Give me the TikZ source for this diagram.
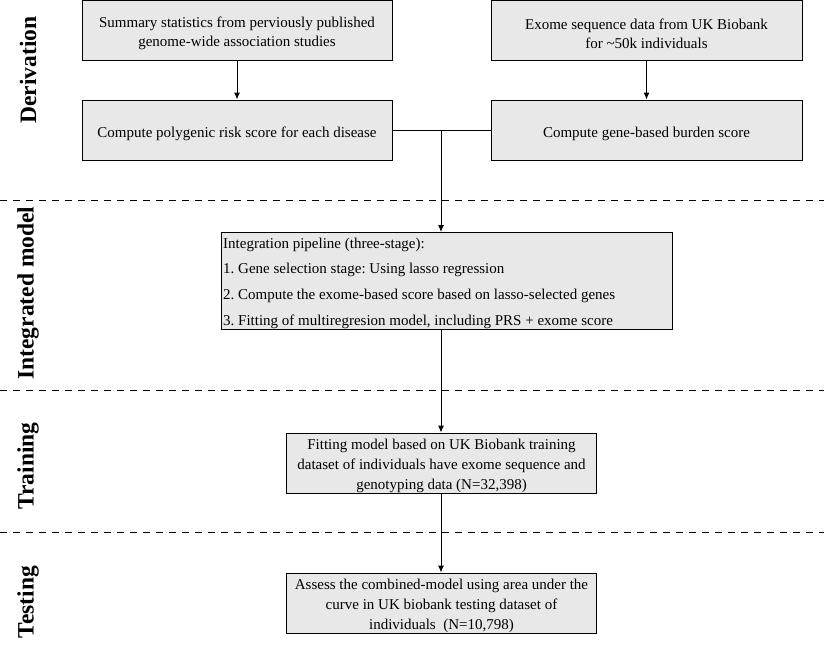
\documentclass[tikz,border=0pt]{standalone}
\usepackage{fontspec}
\setmainfont{Liberation Serif}
\usetikzlibrary{arrows.meta}
\frenchspacing
\tikzset{
  box/.style={draw=black, line width=1pt, fill=boxgray, minimum height=60pt, inner sep=2pt,
    font=\fontsize{15}{19}\selectfont, align=center, execute at begin node={\rule{0pt}{17.5pt}}},
  plainbox/.style={draw=black, line width=1pt, fill=boxgray, inner sep=0pt},
  boxtext/.style={inner sep=0pt, align=center, font=\fontsize{15}{19}\selectfont},
  arr/.style={draw=black, line width=1pt, -{Latex[length=7pt,width=6pt]}},
  conn/.style={draw=black, line width=1pt},
  sep/.style={draw=black, line width=1.6pt, dash pattern=on 7pt off 6pt},
  phase/.style={rotate=90, font=\fontsize{23.5}{26}\selectfont\bfseries, inner sep=0pt}
}
\definecolor{boxgray}{HTML}{E8E8E8}
\begin{document}
\begin{tikzpicture}[x=1pt,y=-1pt]
\useasboundingbox (0,0) rectangle (824,649);
% separators
\draw[sep] (0,200.5) -- (824,200.5);
\draw[sep] (0,390.5) -- (824,390.5);
\draw[sep] (0,532.5) -- (824,532.5);
% phase labels
\node[phase] (lderiv) at (28,70) {Derivation};
\node[phase] (linteg) at (28,293) {Integrated model};
\node[phase] (ltrain) at (28,466) {Training};
\node[phase] (ltest) at (28,602) {Testing};
% boxes
\node[plainbox, minimum width=310pt, minimum height=59.5pt] (sumstat) at (237,30.25) {};
\node[boxtext] (sumstatT) at ([yshift=-3.5pt]sumstat.center) {Summary statistics from perviously published\\genome-wide association studies};
\node[plainbox, minimum width=311pt, minimum height=59.5pt] (exome) at (646.5,30.25) {};
\node[boxtext] (exomeT) at ([yshift=-3.5pt]exome.center) {Exome sequence data from UK Biobank\\for \textasciitilde50k individuals};
\node[box, minimum width=310pt] (prs) at (237,130) {Compute polygenic risk score for each disease};
\node[box, minimum width=311pt] (burden) at (646.5,130) {Compute gene-based burden score};
\node[plainbox, minimum width=450.5pt, minimum height=97pt, anchor=north west] (integ) at (221,232) {};
\node[anchor=north west, inner sep=0pt, align=left, font=\fontsize{15}{25.7}\selectfont] (integtxt) at (223,237.5) {Integration pipeline (three-stage):\\1. Gene selection stage: Using lasso regression\\2. Compute the exome-based score based on lasso-selected genes\\3. Fitting of multiregresion model, including PRS + exome score};
\node[plainbox, minimum width=310pt, minimum height=60pt] (train) at (441.5,463) {};
\node[boxtext, font=\fontsize{15}{20}\selectfont] (trainT) at ([yshift=-2.5pt]train.center) {Fitting model based on UK Biobank training\\dataset of individuals have exome sequence and\\genotyping data (N=32,398)};
\node[plainbox, minimum width=310pt, minimum height=60pt] (test) at (441.5,603) {};
\node[boxtext, font=\fontsize{15}{20}\selectfont] (testT) at ([yshift=-2.5pt]test.center) {Assess the combined-model using area under the\\curve in UK biobank testing dataset of\\individuals\ \ (N=10,798)};
% connectors
\coordinate (jn) at (441,130);
\draw[arr] (sumstat) -- (prs);
\draw[arr] (exome) -- (burden);
\draw[conn] (prs.east) -- (burden.west);
\draw[arr] (jn) -- (jn |- integ.north);
\draw[arr] (jn |- integ.south) -- (jn |- train.north);
\draw[arr] (jn |- train.south) -- (jn |- test.north);
\end{tikzpicture}
\end{document}
